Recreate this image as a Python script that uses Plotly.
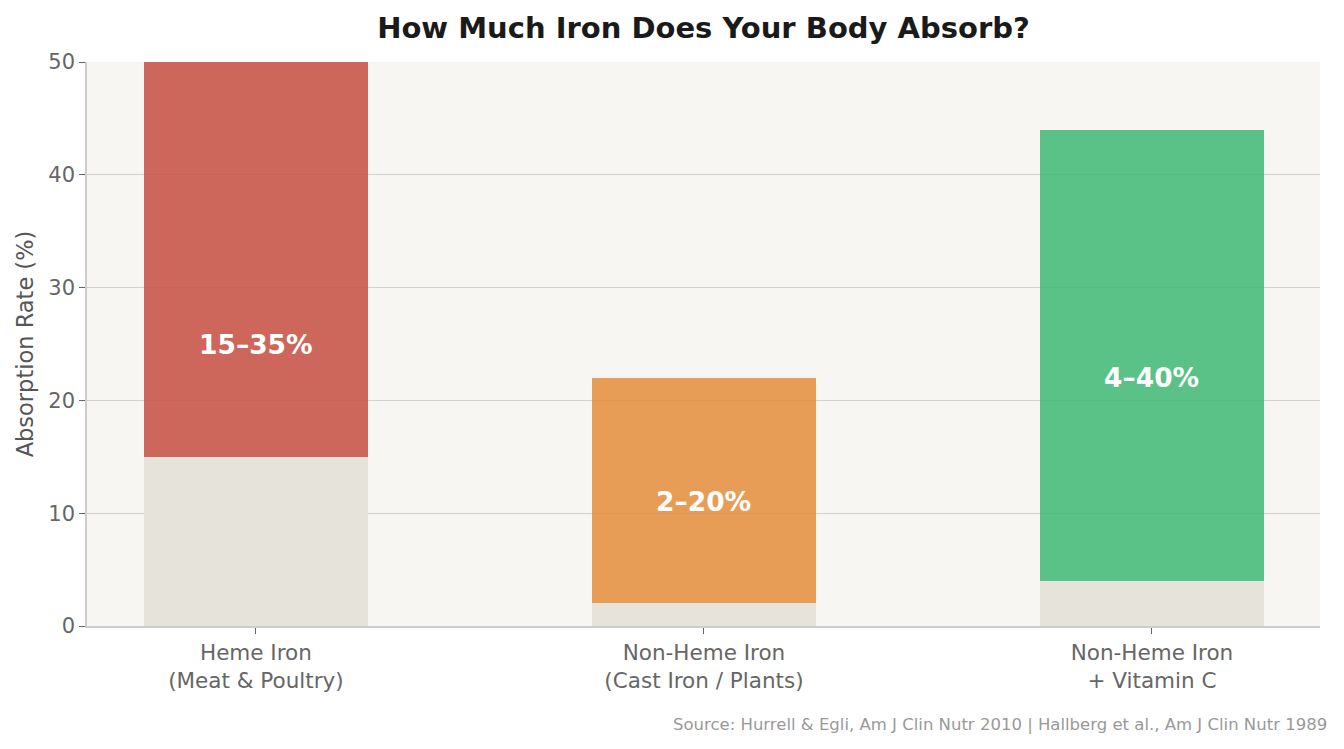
import plotly.graph_objects as go

categories = ["Heme Iron<br>(Meat & Poultry)", "Non-Heme Iron<br>(Cast Iron / Plants)", "Non-Heme Iron<br>+ Vitamin C"]
x_pos = [0, 1, 2]
low_values = [15, 2, 4]
range_values = [35, 20, 40]
range_labels = ["15–35%", "2–20%", "4–40%"]
colors = ["rgba(197,78,66,0.85)", "rgba(228,141,58,0.85)", "rgba(62,184,116,0.85)"]

fig = go.Figure()
fig.add_trace(go.Bar(x=x_pos, y=low_values, width=0.5, marker=dict(color="#e6e3db", line=dict(width=0)),
                     showlegend=False, hoverinfo="skip"))
fig.add_trace(go.Bar(x=x_pos, y=range_values, width=0.5, marker=dict(color=colors, line=dict(width=0)),
                     showlegend=False))

for xi, lo, rv, lab in zip(x_pos, low_values, range_values, range_labels):
    fig.add_annotation(x=xi, y=(lo + rv) / 2, text="<b>%s</b>" % lab, showarrow=False,
                       font=dict(family="DejaVu Sans", size=26.5, color="white"))

fig.add_annotation(xref="paper", yref="paper", x=1.007, y=-0.175, xanchor="right", yanchor="middle",
                   text="Source: Hurrell & Egli, Am J Clin Nutr 2010 | Hallberg et al., Am J Clin Nutr 1989",
                   showarrow=False, font=dict(family="DejaVu Sans", size=16.5, color="#999999"))

fig.update_layout(
    barmode="stack",
    width=1344, height=749,
    margin=dict(l=87, r=24, t=62, b=123),
    paper_bgcolor="white",
    plot_bgcolor="#f7f6f2",
    font=dict(family="DejaVu Sans", color="#666666"),
    title=dict(text="<b>How Much Iron Does Your Body Absorb?</b>", x=0.5, xref="paper", xanchor="center",
               y=0.963, yanchor="middle", font=dict(family="DejaVu Sans", size=29, color="#1a1a1a")),
    xaxis=dict(tickmode="array", tickvals=x_pos, ticktext=categories, range=[-0.377, 2.375],
               showgrid=False, showline=True, linecolor="#cccccc", linewidth=1.5,
               ticks="outside", ticklen=6, tickcolor="#666666", tickfont=dict(size=21.5, color="#666666"),
               zeroline=False),
    yaxis=dict(range=[0, 50], tickvals=[0, 10, 20, 30, 40, 50], showgrid=True, gridcolor="#d4d1cb",
               gridwidth=1, showline=True, linecolor="#cccccc", linewidth=1.5,
               ticks="outside", ticklen=6, tickcolor="#666666", tickfont=dict(size=21, color="#666666"),
               title=dict(text="Absorption Rate (%)", font=dict(size=22.5, color="#555555"), standoff=8),
               zeroline=False),
)

fig.write_html("out.html", config={"displayModeBar": False},
               post_script="document.body.style.margin='0';")
